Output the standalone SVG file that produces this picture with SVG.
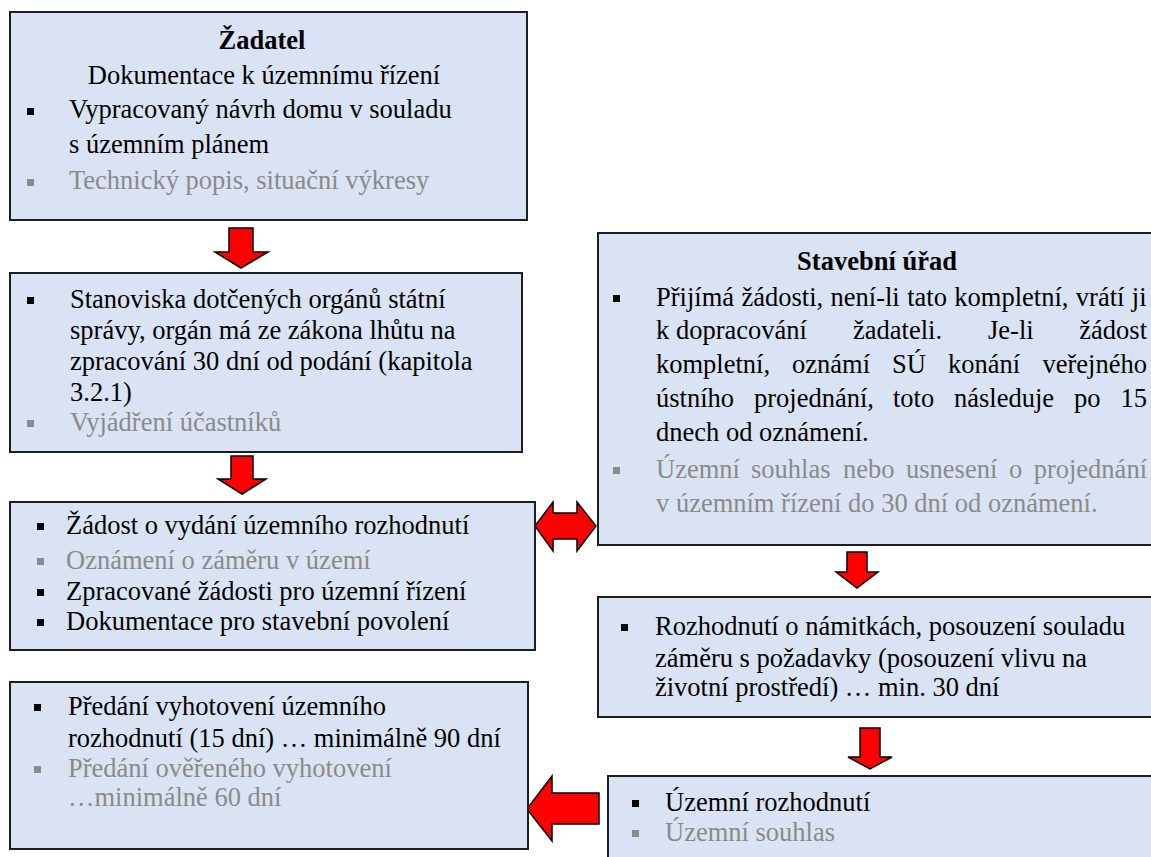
<svg xmlns="http://www.w3.org/2000/svg" width="1151" height="857" viewBox="0 0 1151 857">
<defs>
<style>
.box{fill:#DAE3F3;stroke:#1e1e1e;stroke-width:2}
.t{font-family:"Liberation Serif","Times New Roman",serif;font-size:26.5px;fill:#000}
.g{fill:#8a8a8a}
.b{font-weight:bold}
.bk{fill:#000}
.bg{fill:#8a8a8a}
.arr{fill:#FF0000;stroke:#000;stroke-width:1.5;stroke-linejoin:miter}
</style>
</defs>
<rect width="1151" height="857" fill="#fff"/>

<g id="connectors">
<polygon class="arr" points="229,228 253,228 253,252 268,252 241,268 215,252 229,252"/>
<polygon class="arr" points="231,456 253,456 253,479 266,479 242,494 218,479 231,479"/>
<polygon class="arr" points="535,526 553,502 553,513 577,513 577,502 596,526 577,551 577,539 553,539 553,551"/>
<polygon class="arr" points="847,552 867,552 867,572 878,572 857,588 836,572 847,572"/>
<polygon class="arr" points="860,728 880,728 880,757 892,757 870,769 848,757 860,757"/>
<polygon class="arr" points="527,809 552,776 552,793 599,793 599,824 552,824 552,841"/>
</g>

<g id="zadatel">
<rect class="box" x="10" y="12" width="517" height="208"/>
<text class="t b" x="262" y="49" text-anchor="middle">Žadatel</text>
<text class="t" x="264" y="84" text-anchor="middle">Dokumentace k územnímu řízení</text>
<rect class="bk" x="27" y="108" width="7" height="7"/>
<text class="t" x="69" y="118">Vypracovaný návrh domu v souladu</text>
<text class="t" x="69" y="153">s územním plánem</text>
<rect class="bg" x="27" y="179" width="7" height="7"/>
<text class="t g" x="69" y="189">Technický popis, situační výkresy</text>
</g>

<g id="stanoviska">
<rect class="box" x="10" y="273" width="512" height="179"/>
<rect class="bk" x="27" y="297" width="7" height="7"/>
<text class="t" x="70" y="308">Stanoviska dotčených orgánů státní</text>
<text class="t" x="70" y="339">správy, orgán má ze zákona lhůtu na</text>
<text class="t" x="70" y="370">zpracování 30 dní od podání (kapitola</text>
<text class="t" x="70" y="401">3.2.1)</text>
<rect class="bg" x="27" y="420" width="7" height="7"/>
<text class="t g" x="70" y="431">Vyjádření účastníků</text>
</g>

<g id="zadost">
<rect class="box" x="10" y="502" width="525" height="148"/>
<rect class="bk" x="37" y="523" width="7" height="7"/>
<text class="t" x="66" y="534">Žádost o vydání územního rozhodnutí</text>
<rect class="bg" x="37" y="558" width="7" height="7"/>
<text class="t g" x="66" y="569">Oznámení o záměru v území</text>
<rect class="bk" x="37" y="589" width="7" height="7"/>
<text class="t" x="66" y="600">Zpracované žádosti pro územní řízení</text>
<rect class="bk" x="37" y="619" width="7" height="7"/>
<text class="t" x="66" y="630">Dokumentace pro stavební povolení</text>
</g>

<g id="predani">
<rect class="box" x="10" y="682" width="518" height="167"/>
<rect class="bk" x="34" y="704" width="7" height="7"/>
<text class="t" x="68" y="715">Předání vyhotovení územního</text>
<text class="t" x="68" y="747">rozhodnutí (15 dní) … minimálně 90 dní</text>
<rect class="bg" x="34" y="766" width="7" height="7"/>
<text class="t g" x="68" y="777">Předání ověřeného vyhotovení</text>
<text class="t g" x="68" y="806">…minimálně 60 dní</text>
</g>

<g id="stavebni-urad">
<rect class="box" x="598" y="233" width="560" height="312"/>
<text class="t b" x="877" y="270" text-anchor="middle">Stavební úřad</text>
<rect class="bk" x="613" y="295" width="7" height="7"/>
<text class="t" x="656" y="306" word-spacing="0.8">Přijímá žádosti, není-li tato kompletní, vrátí ji</text>
<text class="t" y="339"><tspan x="656">k dopracování</tspan><tspan x="853">žadateli.</tspan><tspan x="988">Je-li</tspan></text>
<text class="t" x="1147" y="339" text-anchor="end">žádost</text>
<text class="t" y="373"><tspan x="656">kompletní,</tspan><tspan x="792">oznámí</tspan><tspan x="892">SÚ</tspan><tspan x="948">konání</tspan></text>
<text class="t" x="1147" y="373" text-anchor="end">veřejného</text>
<text class="t" y="407"><tspan x="656">ústního</tspan><tspan x="754">projednání,</tspan><tspan x="893">toto</tspan><tspan x="954">následuje</tspan><tspan x="1074">po</tspan></text>
<text class="t" x="1147" y="407" text-anchor="end">15</text>
<text class="t" x="656" y="441">dnech od oznámení.</text>
<rect class="bg" x="613" y="467" width="7" height="7"/>
<text class="t g" y="478"><tspan x="656">Územní</tspan><tspan x="751">souhlas</tspan><tspan x="843">nebo</tspan><tspan x="906">usnesení</tspan><tspan x="1009">o</tspan></text>
<text class="t g" x="1147" y="478" text-anchor="end">projednání</text>
<text class="t g" x="656" y="512">v územním řízení do 30 dní od oznámení.</text>
</g>

<g id="rozhodnuti-namitky">
<rect class="box" x="598" y="597" width="560" height="120"/>
<rect class="bk" x="621" y="624" width="7" height="7"/>
<text class="t" x="655" y="635">Rozhodnutí o námitkách, posouzení souladu</text>
<text class="t" x="655" y="667">záměru s požadavky (posouzení vlivu na</text>
<text class="t" x="655" y="696">životní prostředí) … min. 30 dní</text>
</g>

<g id="uzemni-rozhodnuti">
<rect class="box" x="608" y="776" width="560" height="100"/>
<rect class="bk" x="632" y="800" width="7" height="7"/>
<text class="t" x="665" y="811">Územní rozhodnutí</text>
<rect class="bg" x="632" y="830" width="7" height="7"/>
<text class="t g" x="665" y="841">Územní souhlas</text>
</g>
</svg>
